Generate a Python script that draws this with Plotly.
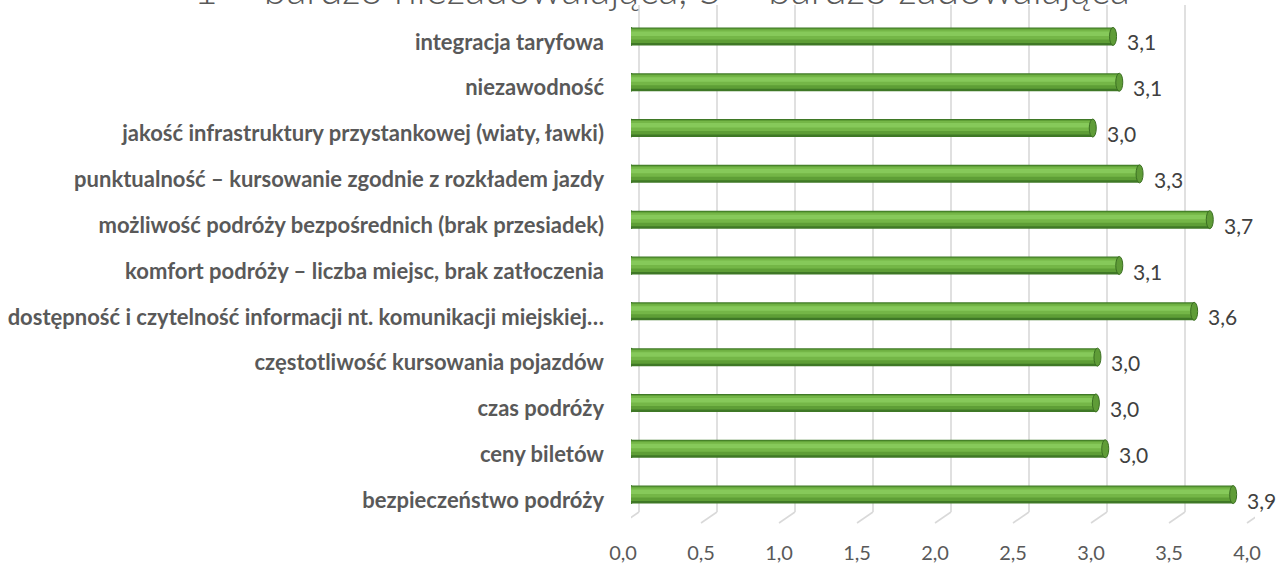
import plotly.graph_objects as go

# ---------------- data ----------------
categories = [
    "integracja taryfowa",
    "niezawodność",
    "jakość infrastruktury przystankowej (wiaty, ławki)",
    "punktualność – kursowanie zgodnie z rozkładem jazdy",
    "możliwość podróży bezpośrednich (brak przesiadek)",
    "komfort podróży – liczba miejsc, brak zatłoczenia",
    "dostępność i czytelność informacji nt. komunikacji miejskiej…",
    "częstotliwość kursowania pojazdów",
    "czas podróży",
    "ceny biletów",
    "bezpieczeństwo podróży",
]
values = [3.09, 3.13, 2.96, 3.26, 3.71, 3.13, 3.61, 2.99, 2.98, 3.04, 3.86]
tick_values = [0.0, 0.5, 1.0, 1.5, 2.0, 2.5, 3.0, 3.5, 4.0]
title_text = "1 – bardzo niezadowalająca, 5 – bardzo zadowalająca"

# ---------------- layout geometry ----------------
W, H = 1277, 565
ML, MR, MT, MB = 631, 22, 19, 42
PW = W - ML - MR          # plot width in px
PH = H - MT - MB          # plot height in px
XMAX = 4.0
PX_PER_UNIT = PW / XMAX
N = len(categories)
PITCH = PH / N            # px per category

DEPTH_X = 8               # 3D depth offset (px) between planes
DEPTH_Y = 5.5
BAR_PX = 18

def px_x(p):   # pixel -> x data units
    return p / PX_PER_UNIT

def px_y(p):   # pixel -> category units
    return p / PITCH

GRID = "#d9d9d9"
TXT = "#595959"
FONT = "Lato"

fig = go.Figure()

# cylinder-like bars: stacked overlay layers (px from bar top, height px, colour)
layers = [
    (0, 18, "#3f7826"),
    (1, 14.5, "#5e9e36"),
    (2, 10, "#74b647"),
    (4, 4.5, "#86c95a"),
]
bar_top = -DEPTH_Y - BAR_PX / 2  # px relative to category centre (up = negative)
for top, h, col in layers:
    fig.add_trace(go.Bar(
        x=values, y=categories, orientation="h",
        width=px_y(h), offset=px_y(bar_top + top),
        marker=dict(color=col, line=dict(width=0)),
        hoverinfo="skip", showlegend=False,
    ))

shapes = []
# back-wall grid lines and slanted floor lines
back_top = 1 + (MT - 5) / PH
back_bot = 11 / PH
for t in tick_values:
    xb = t + px_x(DEPTH_X)
    xf = t - px_x(DEPTH_X)
    shapes.append(dict(type="line", xref="x", yref="paper", x0=xb, x1=xb,
                       y0=back_bot, y1=back_top, layer="below",
                       line=dict(color=GRID, width=1.6)))
    shapes.append(dict(type="line", xref="x", yref="paper", x0=xb, x1=xf,
                       y0=back_bot, y1=0, layer="below",
                       line=dict(color=GRID, width=1.6)))

# cylinder caps
for i, v in enumerate(values):
    yc = i + px_y(-DEPTH_Y)
    y0 = yc - px_y(BAR_PX / 2)
    y1 = yc + px_y(BAR_PX / 2)
    shapes.append(dict(type="circle", xref="x", yref="y", xsizemode="pixel",
                       xanchor=0, x0=-3.5, x1=3.5, y0=y0, y1=y1, layer="below",
                       fillcolor="#5e9e36", line=dict(color="#3f7826", width=1)))
    shapes.append(dict(type="circle", xref="x", yref="y", xsizemode="pixel",
                       xanchor=v, x0=-3.5, x1=3.5, y0=y0, y1=y1, layer="above",
                       fillcolor="#5f9c37", line=dict(color="#3b6f22", width=1)))

annotations = []
for i, v in enumerate(values):
    annotations.append(dict(
        x=v, y=categories[i], xref="x", yref="y",
        text=f"{v:.1f}".replace(".", ","),
        showarrow=False, xanchor="left", yanchor="middle",
        xshift=12, yshift=0,
        font=dict(family=FONT, size=21, color="#404040"),
    ))

TITLE_SIZE = 41
annotations.append(dict(
    text=title_text, xref="paper", yref="paper",
    x=(662 - ML) / PW, y=1 + (MT - (4 + 0.28 * TITLE_SIZE)) / PH,
    xanchor="center", yanchor="bottom", showarrow=False,
    font=dict(family=FONT, size=TITLE_SIZE, color=TXT, weight=300),
))

fig.update_layout(
    width=W, height=H,
    margin=dict(l=ML, r=MR, t=MT, b=MB, pad=0, autoexpand=False),
    paper_bgcolor="white", plot_bgcolor="rgba(0,0,0,0)",
    barmode="overlay",
    separators=", ",
    shapes=shapes, annotations=annotations,
    xaxis=dict(range=[0, XMAX], showgrid=False, zeroline=False,
               showline=False, fixedrange=True, automargin=False,
               tickvals=tick_values, tickformat=".1f",
               ticks="", ticklabelstandoff=16, ticklabelshift=-DEPTH_X,
               tickfont=dict(family=FONT, size=20, color=TXT)),
    yaxis=dict(type="category", categoryorder="array", categoryarray=categories,
               range=[N - 0.5, -0.5], showgrid=False, zeroline=False,
               showline=False, ticks="", ticklabelstandoff=26,
               fixedrange=True, automargin=False,
               tickfont=dict(family=FONT, size=22, color=TXT, weight="bold")),
    showlegend=False,
)

fig.write_html("out.html", config={"displayModeBar": False},
               post_script="document.body.style.margin='0px';")
